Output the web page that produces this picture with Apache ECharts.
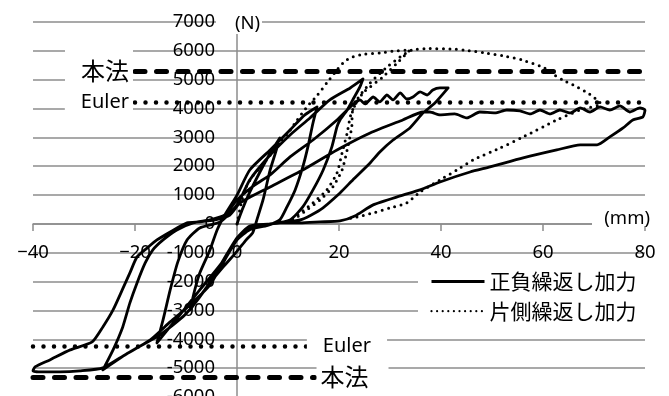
<!DOCTYPE html>
<html>
<head>
<meta charset="utf-8">
<script src="https://cdn.jsdelivr.net/npm/echarts@6/dist/echarts.min.js"></script>
<style>
  html, body { margin: 0; padding: 0; background: #fff; }
  #chart { width: 669px; height: 396px; }
</style>
</head>
<body>
<div id="chart"></div>
<script>
// Axis ranges (displacement in mm, load in N)
const xRange = [-40, 80];
const xStep = 20;
const yRange = [-6000, 7000];
const yStep = 1000;

// Reference loads
const honpoLoad = 5300;   // 本法
const eulerLoad = 4230;   // Euler

// 正負繰返し加力 : branches in loading order, [mm, N]
const solidCycle1 = [[0,0],[1,480],[2.5,1100],[4.5,1800],[6.5,2450],[8.4,2980],
  [7.6,2500],[6.5,1870],[5.1,830],[4,200],[3.1,-300],[1.8,-550],[0,-950],[-2.7,-1490],[-5.9,-2180],[-9.2,-2980],
  [-8.3,-2300],[-7.3,-1700],[-5.3,-900],[-3.9,-210],[-2.4,310],[0,1000]];
const solidCycle2 = [[2.5,1870],[6.5,2565],[10.4,3258],[13.3,3780],[15.7,4055],
  [14.9,3500],[13.9,2670],[12.9,1975],[11.4,1178],[9.8,590],[8.4,140],[6,-50],
  [2.5,-200],[0,-555],[-3.3,-1420],[-7.3,-2288],[-11.2,-3150],[-15.7,-4125],
  [-14.5,-3327],[-13.1,-2288],[-11.6,-1317],[-9.8,-555],[-7.3,-139],[-3.3,70],[0,660]];
const solidCycle3 = [[2.5,1525],[6.5,2390],[10.4,3085],[14.3,3674],[18.2,4300],[22.2,4714],[24.7,5026],
  [24.1,4750],[22.7,4300],[21.6,3950],[20.2,3605],[19.6,3362],[18.6,2670],[16.9,1870],[14.9,1178],[12.9,590],[10.4,139],[6.5,0],
  [2.5,-70],[0,-485],[-2.9,-1317],[-6.3,-2288],[-10.2,-3150],[-15.1,-3847],[-21,-4437],[-26.3,-5060],
  [-24.3,-4367],[-22.4,-3570],[-21,-2738],[-19.6,-2045],[-18,-1352],[-16.5,-900],[-14.5,-555],[-11.8,-208],[-8.6,35],[-5.3,139],[-2.4,310],[0,830]];
const solidCycle4 = [[3.5,1352],[6.5,1700],[10.4,2322],[14.9,2910],[19.6,3605],[22.2,4055],
  [23.1,4190],[24.1,4300],[25.1,4160],[26.7,4400],[28,4230],[29.4,4470],[30.6,4300],[32,4540],[33.3,4330],[34.5,4400],[35.9,4575],[37.3,4470],[38.4,4645],[39.8,4714],[41.4,4714],
  [38.8,4190],[36.5,3850],[33.9,3327],[30.6,2910],[28,2495],[26.1,2114],[22.7,1525],[20.2,1075],[16.3,485],[12.4,139],[6.5,0],
  [2.5,-139],[0,-555],[-2.4,-1248],[-5.3,-2114],[-9.2,-2807],[-13.1,-3397],[-17,-4020],[-22,-4540],[-26.3,-4990],[-30.8,-5095],[-34.7,-5130],[-38.6,-5130],[-40,-5095],
  [-39.6,-4956],[-36.7,-4714],[-32.7,-4367],[-28.4,-4090],[-26.3,-3570],[-24.3,-2980],[-22.5,-2288],[-21,-1698],[-19.6,-1144],[-17.6,-832],[-15.7,-555],[-13.1,-277],[-9.8,35],[-7.3,70],[-4.3,139],[-1.4,310],[0.6,728]];
const solidFinal = [[6.5,1282],[12.9,1870],[19.6,2565],[26.1,3154],[32.5,3605],[36.5,3880],
  [37.8,3880],[39.8,3778],[42.7,3812],[45.1,3674],[47.6,3880],[50.6,3847],[52.9,3950],[55.5,3916],[57.5,3812],[59.4,3950],[61.4,3812],[63.3,3950],[65.3,3847],[67.3,4020],[69.2,3880],[71.2,4055],[73.1,3950],[75.1,4090],[77,3880],[79,4020],[80,3950],
  [79.6,3710],[77.6,3605],[75.7,3327],[73.1,3015],[70.6,2738],[67.3,2738],[62.7,2565],[56.1,2288],[49.6,1975],[45.7,1800],[39.8,1455],[35.9,1178],[32,970],[26.7,660],[23.1,277],[20.2,104],[16.3,70],[12.4,35],[8.4,35]];

// 片側繰返し加力 : branches in loading order, [mm, N]
const dottedLoading = [[0,0],[0.8,700],[1.6,1200],[3,1650],[4.5,1950],[6.5,2380],[8.4,2850],[9.8,3100],[11.8,3605],[13.7,4055],[15.7,4450],[17.6,4887],[19.6,5340],[21.2,5650],[22.7,5790],[25.1,5890],[28,5930],[31,5996],[33.9,6030]];
const dottedUnload1 = [[31.4,5580],[28.6,5095],[24.7,4540],[22.7,3950],[22.5,3362],[21.6,2565],[20.6,1870],[18.8,1282],[16.3,832],[13.7,485],[11.8,243],[10.4,104]];
const dottedReload = [[12.4,381],[14.9,728],[17.6,1178],[19.6,1767],[20.6,2460],[21.6,3154],[22.2,3708],[23.5,4300],[26.1,4887],[29.4,5440],[32,5790],[34.3,6030],
  [37.8,6080],[41.8,6065],[44.5,6030],[48.6,5927],[52.5,5820],[55.9,5684],[59.4,5476],[61,5340],[62.5,5130],[63.9,4990],[66.3,4783],[68.8,4540],[70.6,4300],[71.4,4160]];
const dottedUnload2 = [[67.3,3950],[62.7,3605],[56.1,3015],[51.6,2634],[46.3,2218],[43.1,1870],[39.8,1525],[35.9,1110],[33.3,728],[30,555],[26.7,381],[23.5,243],[21.5,170]];

const solidSeriesData = [].concat(solidCycle1, solidCycle2, solidCycle3, solidCycle4, solidFinal);
const dottedSeriesData = [].concat(dottedLoading, dottedUnload1, dottedReload, dottedUnload2);

const latin = '"Noto Sans", "Noto Sans CJK JP", sans-serif';
const cjk = '"Noto Sans CJK JP", "Noto Sans", sans-serif';
const gridGray = '#8c8c8c';

const honpoStyle = { color: '#000', width: 5, type: [10, 11.5], cap: 'round' };
const eulerStyle = { color: '#000', width: 4.5, type: [0, 10.5], cap: 'round' };
const boxLabel = (text, pos, dist, size, family, pad) => ({
  show: true, position: pos, distance: dist, formatter: text,
  fontSize: size, fontFamily: family, color: '#000',
  backgroundColor: '#fff', padding: pad
});

const chart = echarts.init(document.getElementById('chart'), null, { renderer: 'canvas' });

chart.setOption({
  animation: false,
  backgroundColor: '#fff',
  grid: { left: 33, right: 24, top: 22, bottom: -1, containLabel: false, outerBoundsMode: 'none' },
  xAxis: {
    type: 'value', min: xRange[0], max: xRange[1], interval: xStep,
    position: 'bottom',
    axisLine: { onZero: false, lineStyle: { color: gridGray, width: 1.5 } },
    axisTick: { show: true, length: 7, lineStyle: { color: gridGray, width: 1.5 } },
    axisLabel: {
      margin: 20, fontSize: 18.5, fontFamily: latin, color: '#000',
      formatter: v => String(v).replace('-', '\u2212')
    },
    splitLine: { show: false }
  },
  yAxis: {
    type: 'value', min: yRange[0], max: yRange[1], interval: yStep,
    position: 'left',
    axisLine: { show: true, onZero: false, lineStyle: { color: gridGray, width: 1.5 } },
    axisTick: { show: false },
    axisLabel: { margin: 22, fontSize: 18.5, fontFamily: latin, color: '#000', formatter: v => String(v) },
    splitLine: { show: true, lineStyle: { color: gridGray, width: 1.5 } }
  },
  legend: {
    orient: 'vertical', left: 418, top: 263,
    padding: [8, 10, 8, 12], itemGap: 8.7,
    itemWidth: 53, itemHeight: 14,
    backgroundColor: '#fff',
    itemStyle: { color: 'rgba(0,0,0,0)', borderWidth: 0, opacity: 0 },
    textStyle: { fontFamily: cjk, fontSize: 21, color: '#000' },
    data: [
      { name: '正負繰返し加力', lineStyle: { color: '#000', width: 3, type: 'solid' } },
      { name: '片側繰返し加力', lineStyle: { color: '#000', width: 2.2, type: [0, 5.6], cap: 'round' } }
    ]
  },
  series: [
    {
      name: '正負繰返し加力', type: 'line', data: solidSeriesData,
      symbol: 'none', smooth: 0.2, clip: false,
      lineStyle: { color: '#000', width: 2.8, join: 'round' },
      itemStyle: { color: '#000' }, z: 3
    },
    {
      name: '片側繰返し加力', type: 'line', data: dottedSeriesData,
      symbol: 'none', smooth: 0.2, clip: false,
      lineStyle: { color: '#000', width: 3, type: [0, 6.5], cap: 'round' },
      itemStyle: { color: '#000' }, z: 3
    },
    {
      name: 'reference', type: 'line', data: [],
      markLine: {
        silent: true, symbol: 'none', animation: false,
        data: [
          [{ coord: [-20, honpoLoad], lineStyle: honpoStyle,
             label: boxLabel('本法', 'start', 2, 24, cjk, [10, 4, 9, 16]) },
           { coord: [80, honpoLoad] }],
          [{ coord: [-20, eulerLoad], lineStyle: eulerStyle,
             label: boxLabel('Euler', 'start', 2, 20, latin, [2, 4, 2, 16]) },
           { coord: [80, eulerLoad] }],
          [{ coord: [-40, -eulerLoad], lineStyle: eulerStyle,
             label: boxLabel('Euler', 'end', 0, 20, latin, [2, 16, 2, 16]) },
           { coord: [13.7, -eulerLoad] }],
          [{ coord: [-40, -honpoLoad], lineStyle: honpoStyle,
             label: boxLabel('本法', 'end', 2, 24, cjk, [3, 20, 3, 4]) },
           { coord: [15.2, -honpoLoad] }]
        ]
      }
    }
  ]
});

// Both axes cross at the origin: shift each axis (line, ticks, labels) onto zero
const p0 = chart.convertToPixel({ gridIndex: 0 }, [0, 0]);
const pLeft = chart.convertToPixel({ gridIndex: 0 }, [xRange[0], 0]);
const pBottom = chart.convertToPixel({ gridIndex: 0 }, [0, yRange[0]]);
const pN = chart.convertToPixel({ gridIndex: 0 }, [0, yRange[1]]);
const pMM = chart.convertToPixel({ gridIndex: 0 }, [xRange[1], 0]);

chart.setOption({
  yAxis: { offset: -(p0[0] - pLeft[0]) },
  xAxis: { offset: -(pBottom[1] - p0[1]) },
  // Axis unit titles, anchored to the axis ends
  graphic: [
    { type: 'rect', z: 10, shape: { x: pN[0] - 21, y: pN[1] - 11, width: 46, height: 23 }, style: { fill: '#fff' } },
    { type: 'text', z: 11, x: pN[0] - 2, y: pN[1] + 2,
      style: { text: '(N)', font: '18.5px ' + latin, fill: '#000', textAlign: 'left', textVerticalAlign: 'middle', align: 'left', verticalAlign: 'middle' } },
    { type: 'rect', z: 10, shape: { x: pMM[0] - 53, y: pMM[1] - 15, width: 62, height: 17 }, style: { fill: '#fff' } },
    { type: 'text', z: 11, x: pMM[0] + 5, y: pMM[1] - 5,
      style: { text: '(mm)', font: '18.5px ' + latin, fill: '#000', textAlign: 'right', textVerticalAlign: 'middle', align: 'right', verticalAlign: 'middle' } }
  ]
});
</script>
</body>
</html>
